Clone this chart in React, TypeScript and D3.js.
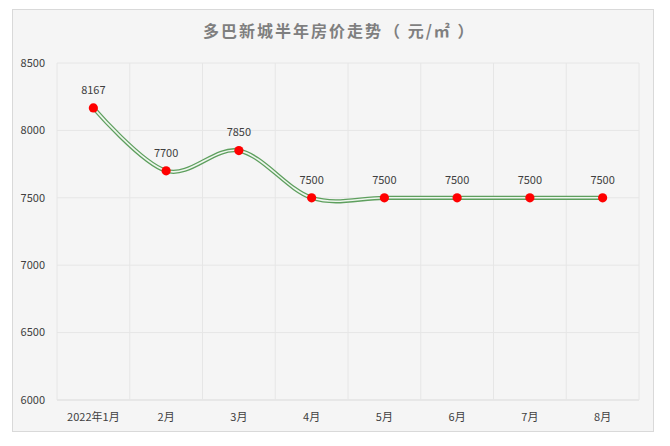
import React from "react";
import * as d3 from "d3";

const categories = ["2022年1月", "2月", "3月", "4月", "5月", "6月", "7月", "8月"];
const values = [8167, 7700, 7850, 7500, 7500, 7500, 7500, 7500];
const yTicks = [6000, 6500, 7000, 7500, 8000, 8500];
const titleMain = "多巴新城半年房价走势";
const titleUnit = "（ 元/㎡ ）";

export default function App() {
  const W = 670, H = 446;
  const left = 57, right = 639, top = 63, bottom = 400;
  const x = d3.scaleBand<string>().domain(categories).range([left, right]);
  const y = d3.scaleLinear().domain([6000, 8500]).range([bottom, top]);
  const pts: [number, number][] = values.map((v, i) => [x(categories[i])! + x.bandwidth() / 2, y(v)]);
  const line = d3.line().curve(d3.curveCardinal.tension(0))(pts) || "";
  const font = "'Microsoft YaHei', 'Noto Sans CJK SC', sans-serif";
  const boundaries = categories.map((c) => x(c)!).concat([right]);
  return (
    <svg width={W} height={H} style={{ position: "absolute", left: 0, top: 0 }}>
      <rect x={12.5} y={9.5} width={641} height={422} fill="#F5F5F5" stroke="#D9D9D9" />
      {yTicks.map((t) => (
        <line key={t} x1={left} x2={right} y1={y(t)} y2={y(t)} stroke={t === 6000 ? "#D9D9D9" : "#E6E6E6"} />
      ))}
      {boundaries.map((b, i) => (
        <line key={i} x1={b} x2={b} y1={top} y2={bottom} stroke="#E6E6E6" />
      ))}
      {yTicks.map((t) => (
        <text key={t} x={45} y={y(t)} dy="0.35em" textAnchor="end" fontSize={11} fill="#404040" fontFamily={font}>
          {t}
        </text>
      ))}
      {categories.map((c) => (
        <text key={c} x={x(c)! + x.bandwidth() / 2} y={417} dy="0.35em" textAnchor="middle" fontSize={11} fill="#404040" fontFamily={font}>
          {c}
        </text>
      ))}
      <path d={line} fill="none" stroke="#5E9F5E" strokeWidth={4.2} />
      <path d={line} fill="none" stroke="#EEF6EE" strokeWidth={1.6} />
      {pts.map((p, i) => (
        <circle key={i} cx={p[0]} cy={p[1]} r={4.6} fill="#FF0000" />
      ))}
      {pts.map((p, i) => (
        <text key={i} x={p[0]} y={p[1] - 18} dy="0.35em" textAnchor="middle" fontSize={11} fill="#404040" fontFamily={font}>
          {values[i]}
        </text>
      ))}
      <text x={203} y={31} dy="0.35em" textAnchor="start" fontSize={16} fontWeight="bold" fill="#7F7F7F" fontFamily={font} letterSpacing={2}>
        {titleMain}
      </text>
      <text x={384} y={31} dy="0.35em" textAnchor="start" fontSize={16} fontWeight="bold" fill="#7F7F7F" fontFamily={font} letterSpacing={2}>
        {titleUnit}
      </text>
    </svg>
  );
}
